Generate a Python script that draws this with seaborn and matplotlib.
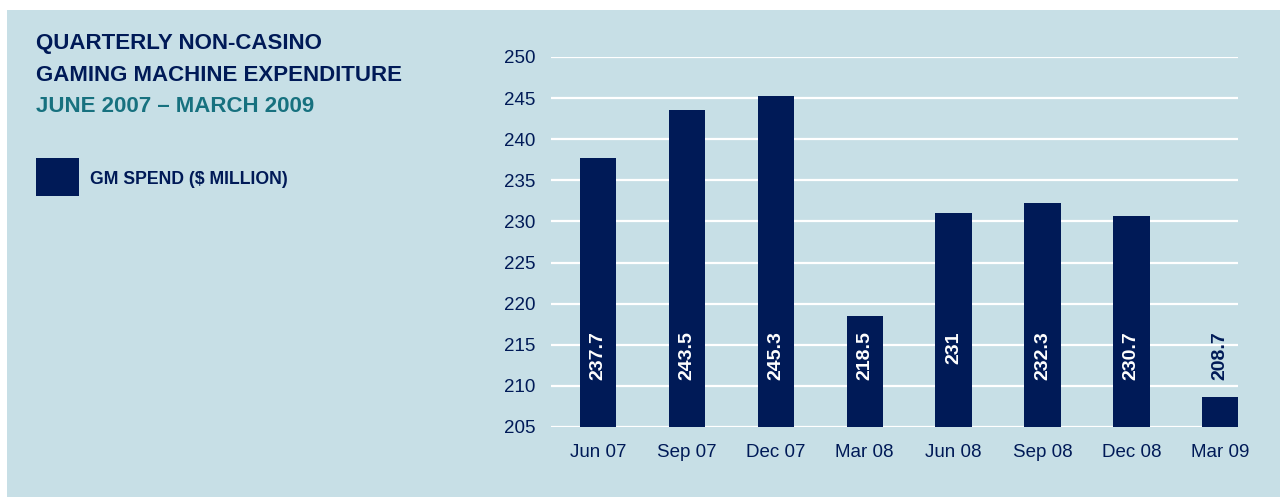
import matplotlib
matplotlib.use("Agg")
import matplotlib.pyplot as plt
import matplotlib.patches as mpatches
import seaborn as sns
import pandas as pd

quarters = ["Jun 07", "Sep 07", "Dec 07", "Mar 08", "Jun 08", "Sep 08", "Dec 08", "Mar 09"]
gm_spend = [237.7, 243.5, 245.3, 218.5, 231, 232.3, 230.7, 208.7]
value_labels = ["237.7", "243.5", "245.3", "218.5", "231", "232.3", "230.7", "208.7"]
y_ticks = [205, 210, 215, 220, 225, 230, 235, 240, 245, 250]

bg = "#c7dfe6"
navy = "#001a57"
teal = "#17717f"

sns.set_style("white")
plt.rcParams["font.family"] = ["Liberation Sans", "DejaVu Sans"]

df = pd.DataFrame({"quarter": quarters, "spend": gm_spend})

fig = plt.figure(figsize=(12.8, 4.97), dpi=100)
fig.patch.set_facecolor(bg)
# white strips along the top and left edges
fig.patches.append(mpatches.Rectangle((0, 1 - 10 / 497), 1, 10 / 497, transform=fig.transFigure,
                                      facecolor="white", edgecolor="none"))
fig.patches.append(mpatches.Rectangle((0, 0), 7 / 1280, 1, transform=fig.transFigure,
                                      facecolor="white", edgecolor="none"))

ax = fig.add_axes([551 / 1280, 1 - 427 / 497, (1238 - 551) / 1280, (427 - 57) / 497])
ax.set_facecolor("none")
sns.barplot(data=df, x="quarter", y="spend", color=navy, width=0.41, saturation=1,
            linewidth=0, ax=ax, zorder=2)

ax.set_ylim(205, 250)
ax.set_xlim(-0.53, 7.2)
ax.set_yticks(y_ticks)
ax.yaxis.grid(True, color="white", linewidth=1.6, zorder=1)
ax.set_axisbelow(True)
for s in ax.spines.values():
    s.set_visible(False)
ax.set_xlabel("")
ax.set_ylabel("")
ax.tick_params(axis="both", length=0, labelsize=13.5, colors=navy)
ax.tick_params(axis="y", pad=11)
ax.tick_params(axis="x", pad=12)

for i, (v, lab) in enumerate(zip(gm_spend, value_labels)):
    col = "white" if v > 216.6 else navy
    ax.text(i, 216.6, lab, rotation=90, ha="center", va="top", color=col,
            fontsize=14, fontweight="bold", zorder=3)

fig.text(36 / 1280, 1 - 44 / 497, "QUARTERLY NON-CASINO", color=navy, fontsize=16,
         fontweight="bold", va="center", ha="left")
fig.text(36 / 1280, 1 - 75.5 / 497, "GAMING MACHINE EXPENDITURE", color=navy, fontsize=16,
         fontweight="bold", va="center", ha="left")
fig.text(36 / 1280, 1 - 106.5 / 497, "JUNE 2007 \u2013 MARCH 2009", color=teal, fontsize=16,
         fontweight="bold", va="center", ha="left")

fig.patches.append(mpatches.Rectangle((36 / 1280, 1 - 196 / 497), 43 / 1280, 38 / 497,
                                      transform=fig.transFigure, facecolor=navy, edgecolor="none"))
fig.text(90 / 1280, 1 - 180 / 497, "GM SPEND ($ MILLION)", color=navy, fontsize=12.7,
         fontweight="bold", va="center", ha="left")

fig.savefig("out.png", dpi=100, facecolor=fig.get_facecolor())
